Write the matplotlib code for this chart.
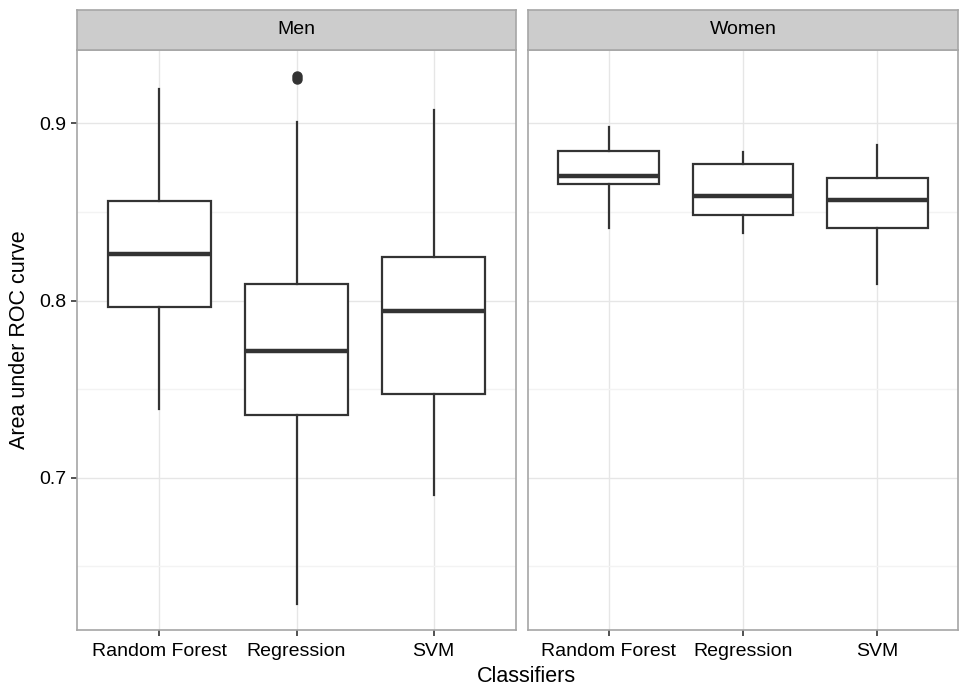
import matplotlib.pyplot as plt
from matplotlib.ticker import MultipleLocator

plt.rcParams["font.family"] = ["Liberation Sans", "DejaVu Sans"]

# -----------------------------------
# Data
# -----------------------------------
classifiers = ["Random Forest", "Regression", "SVM"]
panels = ["Men", "Women"]

# per panel: lower whisker, Q1, median, Q3, upper whisker
men_low = [0.739, 0.629, 0.690]
men_q1 = [0.7965, 0.7354, 0.7472]
men_med = [0.8262, 0.7717, 0.7941]
men_q3 = [0.8563, 0.8091, 0.8244]
men_high = [0.9194, 0.9007, 0.9075]
men_fliers = [[], [0.9265, 0.9252], []]

women_low = [0.8411, 0.8379, 0.8091]
women_q1 = [0.8656, 0.8483, 0.8407]
women_med = [0.8704, 0.8590, 0.8569]
women_q3 = [0.8845, 0.8772, 0.8691]
women_high = [0.8977, 0.8840, 0.8876]
women_fliers = [[], [], []]

y_ticks = [0.7, 0.8, 0.9]


def make_stats(low, q1, med, q3, high, fliers):
    return [
        dict(whislo=low[i], q1=q1[i], med=med[i], q3=q3[i], whishi=high[i],
             fliers=fliers[i], label=classifiers[i])
        for i in range(len(classifiers))
    ]


stats = {
    "Men": make_stats(men_low, men_q1, men_med, men_q3, men_high, men_fliers),
    "Women": make_stats(women_low, women_q1, women_med, women_q3, women_high, women_fliers),
}

# -----------------------------------
# Layout
# -----------------------------------
W, H = 959, 687
fig = plt.figure(figsize=(W / 100, H / 100), dpi=100)

panel_x = [(77, 516), (528, 958)]
panel_top, panel_bot = 50, 630
strip_top = 10

line_col = "#333333"
border_col = "#a6a6a6"

for k, name in enumerate(panels):
    x0, x1 = panel_x[k]
    ax = fig.add_axes([x0 / W, 1 - panel_bot / H, (x1 - x0) / W, (panel_bot - panel_top) / H])
    ax.set_ylim(0.6141, 0.9414)
    ax.set_xlim(0.4, 3.6)

    ax.set_axisbelow(True)
    ax.yaxis.set_major_locator(MultipleLocator(0.1))
    ax.yaxis.set_minor_locator(MultipleLocator(0.05))
    ax.grid(True, which="major", color="#e6e6e6", lw=1.0)
    ax.grid(True, which="minor", axis="y", color="#f3f3f3", lw=1.0)

    ax.bxp(
        stats[name],
        positions=[1, 2, 3],
        widths=0.75,
        showcaps=False,
        patch_artist=True,
        boxprops=dict(facecolor="white", edgecolor=line_col, lw=1.6),
        whiskerprops=dict(color=line_col, lw=1.6),
        medianprops=dict(color=line_col, lw=3.2, solid_capstyle="butt"),
        flierprops=dict(marker="o", markerfacecolor=line_col, markeredgecolor=line_col,
                        markersize=6.5),
    )
    ax.set_xlim(0.4, 3.6)
    ax.set_xticks([1, 2, 3])
    ax.set_xticklabels(classifiers, fontsize=14, color="black")
    ax.set_yticks(y_ticks)
    ax.tick_params(axis="both", which="major", length=4.5, width=1.2, color=line_col,
                   labelsize=14, pad=3)
    ax.tick_params(axis="x", which="major", pad=5)
    ax.tick_params(axis="y", which="minor", length=0)

    if k == 0:
        ax.set_yticklabels([str(t) for t in y_ticks])
        ax.set_ylabel("Area under ROC curve", fontsize=15.5, labelpad=7)
    else:
        ax.tick_params(axis="y", which="major", length=0, labelleft=False)

    for s in ax.spines.values():
        s.set_color(border_col)
        s.set_linewidth(1.2)

    # facet strip
    sax = fig.add_axes([x0 / W, 1 - panel_top / H, (x1 - x0) / W, (panel_top - strip_top) / H])
    sax.set_facecolor("#cccccc")
    sax.set_xticks([])
    sax.set_yticks([])
    for s in sax.spines.values():
        s.set_color(border_col)
        s.set_linewidth(1.2)
    sax.text(0.5, 0.5, name, ha="center", va="center", fontsize=14, transform=sax.transAxes)

fig.text(526 / W, 1 - 676 / H, "Classifiers", ha="center", va="center", fontsize=15.5)

fig.savefig("out.png", dpi=100)
